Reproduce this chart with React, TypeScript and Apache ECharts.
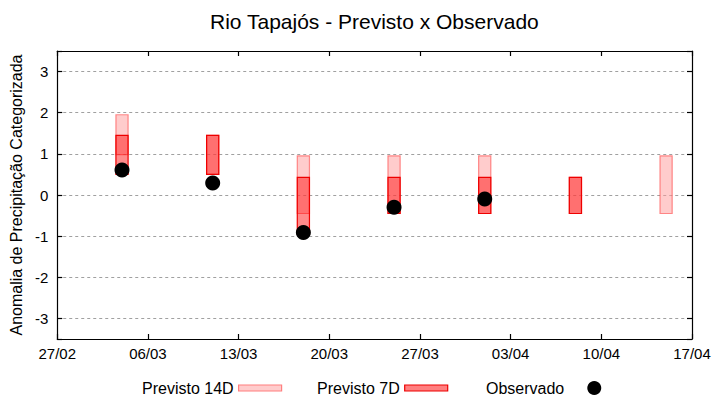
import React, { useEffect, useRef } from "react";
import * as echarts from "echarts";

const TITLE = "Rio Tapajós - Previsto x Observado";
const Y_NAME = "Anomalia de Precipitação Categorizada";
const LEGEND_14 = "Previsto 14D";
const LEGEND_7 = "Previsto 7D";
const LEGEND_OBS = "Observado";

const YEAR = 2023;
const START_DATE = "27/02";
const END_DATE = "17/04";
const DATES = ["04/03", "11/03", "18/03", "25/03", "01/04", "08/04", "15/04"];
const P14_LOW: (number | null)[] = [0.98, 0.5, -0.45, -0.45, -0.45, -0.45, -0.45];
const P14_HIGH: (number | null)[] = [1.95, 1.45, 0.95, 0.95, 0.95, 0.43, 0.95];
const P7_LOW: (number | null)[] = [0.5, 0.5, -0.95, -0.45, -0.45, -0.45, null];
const P7_HIGH: (number | null)[] = [1.45, 1.45, 0.43, 0.43, 0.43, 0.43, null];
const OBS: (number | null)[] = [0.61, 0.29, -0.91, -0.3, -0.1, null, null];

const DAY = 86400000;
const toMs = (s: string) => {
  const [d, m] = s.split("/").map(Number);
  return Date.UTC(YEAR, m - 1, d);
};
const START_MS = toMs(START_DATE);
const dayOf = (s: string) => Math.round((toMs(s) - START_MS) / DAY);
const SPAN = dayOf(END_DATE);

const FONT = "Liberation Sans";
const HALF = 0.47;
const FILL_14 = "rgba(255,153,153,0.5)";
const STROKE_14 = "rgba(255,70,70,0.6)";
const FILL_7 = "rgba(255,0,0,0.45)";
const STROKE_7 = "#ee0000";

function boxData(lo: (number | null)[], hi: (number | null)[]) {
  const out: number[][] = [];
  DATES.forEach((d, i) => {
    const l = lo[i];
    const h = hi[i];
    if (l !== null && h !== null) out.push([dayOf(d), l, h]);
  });
  return out;
}

function boxSeries(name: string, data: number[][], fill: string, stroke: string, z: number) {
  return {
    type: "custom",
    name,
    z,
    data,
    encode: { x: 0, y: [1, 2] },
    itemStyle: { color: fill, borderColor: stroke },
    renderItem: (_p: any, api: any) => {
      const x = api.value(0);
      const lo = api.value(1);
      const hi = api.value(2);
      const a = api.coord([x - HALF, hi]);
      const b = api.coord([x + HALF, lo]);
      return {
        type: "rect",
        shape: { x: a[0], y: a[1], width: b[0] - a[0], height: b[1] - a[1] },
        style: { fill, stroke, lineWidth: 1.2 },
      };
    },
  };
}

export default function App() {
  const ref = useRef<HTMLDivElement>(null);
  useEffect(() => {
    if (!ref.current) return;
    const chart = echarts.init(ref.current, undefined, { renderer: "svg" });
    const fmtDate = (v: number) => {
      const dt = new Date(START_MS + v * DAY);
      const dd = String(dt.getUTCDate()).padStart(2, "0");
      const mm = String(dt.getUTCMonth() + 1).padStart(2, "0");
      return `${dd}/${mm}`;
    };
    const obsData: number[][] = [];
    DATES.forEach((d, i) => {
      const v = OBS[i];
      if (v !== null) obsData.push([dayOf(d), v]);
    });
    const tickFont = { fontFamily: FONT, fontSize: 15, color: "#000" };
    const legendText = { fontFamily: FONT, fontSize: 16, color: "#000" };
    const xBase = {
      type: "value",
      min: 0,
      max: SPAN,
      interval: 7,
      z: 5,
      axisLine: { show: true, onZero: false, lineStyle: { color: "#000", width: 1.2 } },
      axisTick: { show: true, inside: true, length: 5, lineStyle: { color: "#000", width: 1.2 } },
      splitLine: { show: false },
    };
    const yBase = {
      type: "value",
      min: -3.5,
      max: 3.5,
      splitNumber: 7,
      axisLine: { show: true, onZero: false, lineStyle: { color: "#000", width: 1.2 } },
      axisTick: { show: true, inside: true, length: 5, lineStyle: { color: "#000", width: 1.2 } },
    };
    chart.setOption({
      animation: false,
      backgroundColor: "#fff",
      title: {
        text: TITLE,
        left: 205,
        top: 6,
        textStyle: { fontFamily: FONT, fontSize: 21, fontWeight: "normal", color: "#000" },
      },
      grid: { left: 55, right: 28, top: 51, bottom: 61 },
      legend: [
        {
          data: [{ name: LEGEND_14, icon: "rect", itemStyle: { color: FILL_14, borderColor: "#ff7f7f", borderWidth: 1.2 } }],
          left: 142,
          top: 380,
          padding: 0,
          align: "right",
          itemWidth: 43,
          itemHeight: 6,
          textStyle: legendText,
        },
        {
          data: [{ name: LEGEND_7, icon: "rect", itemStyle: { color: "rgba(255,0,0,0.5)", borderColor: STROKE_7, borderWidth: 1.2 } }],
          left: 317,
          top: 380,
          padding: 0,
          align: "right",
          itemWidth: 43,
          itemHeight: 6,
          textStyle: legendText,
        },
        {
          data: [{ name: LEGEND_OBS, icon: "circle", itemStyle: { color: "#000", opacity: 1 } }],
          left: 486,
          top: 380,
          padding: 0,
          align: "right",
          itemWidth: 50,
          itemHeight: 14,
          textStyle: legendText,
        },
      ],
      xAxis: [
        {
          ...xBase,
          position: "bottom",
          axisLabel: { ...tickFont, margin: 7, formatter: fmtDate },
        },
        {
          ...xBase,
          position: "top",
          axisLabel: { show: false },
        },
      ],
      yAxis: [
        {
          ...yBase,
          position: "left",
          name: Y_NAME,
          nameLocation: "middle",
          nameGap: 22,
          nameTextStyle: { fontFamily: FONT, fontSize: 16, color: "#000" },
          axisLabel: {
            ...tickFont,
            margin: 9,
            formatter: (v: number) => (Number.isInteger(v) ? String(v) : ""),
          },
          splitLine: { show: true, lineStyle: { color: "#a0a0a0", width: 1, type: [3, 3] } },
        },
        {
          ...yBase,
          position: "right",
          axisLabel: { show: false },
          splitLine: { show: false },
        },
      ],
      series: [
        boxSeries(LEGEND_14, boxData(P14_LOW, P14_HIGH), FILL_14, STROKE_14, 2),
        boxSeries(LEGEND_7, boxData(P7_LOW, P7_HIGH), FILL_7, STROKE_7, 3),
        {
          type: "scatter",
          name: LEGEND_OBS,
          z: 4,
          data: obsData,
          symbol: "circle",
          symbolSize: 15,
          itemStyle: { color: "#000", opacity: 1 },
        },
      ],
    });
    return () => chart.dispose();
  }, []);
  return <div ref={ref} style={{ position: "fixed", left: 0, top: 0, width: 720, height: 400 }} />;
}
